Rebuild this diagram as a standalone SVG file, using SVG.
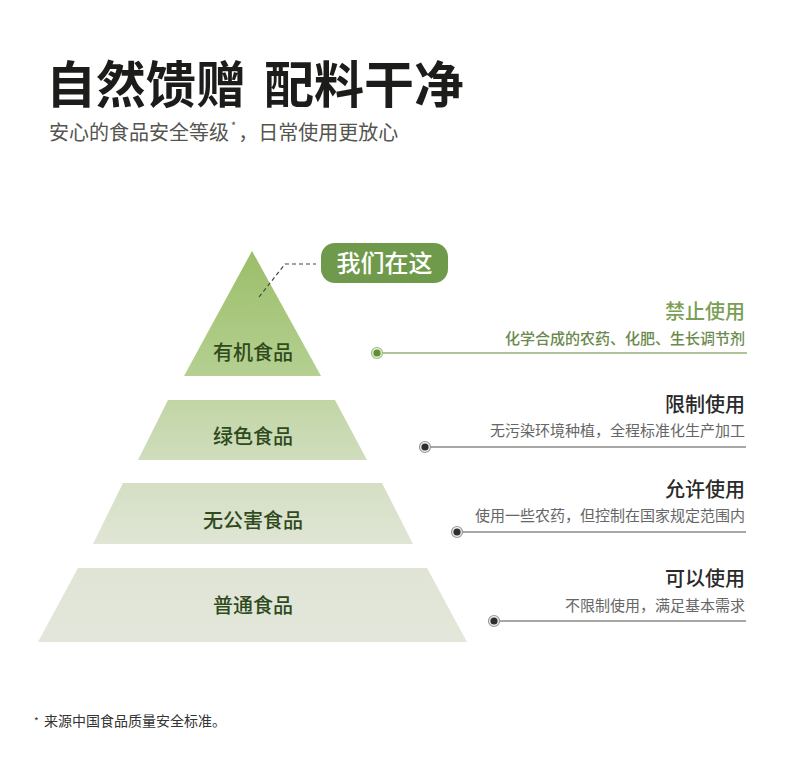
<svg xmlns="http://www.w3.org/2000/svg" width="790" height="765" viewBox="0 0 790 765">
<style>
.cjk{font-family:"Noto Sans CJK SC","Noto Sans",sans-serif}
.title{font-size:50px;font-weight:700;fill:#1c1c1a}
.sub{font-size:20px;fill:#555550}
.lvl{font-size:20px;font-weight:500;fill:#2f4a1c;text-anchor:middle}
.head{font-size:20px;font-weight:500;fill:#2a2a2a;text-anchor:end}
.desc{font-size:15px;fill:#666;text-anchor:end}
.gline{stroke:#93b274;stroke-width:1.6;fill:none}
.kline{stroke:#8a8a88;stroke-width:1.6;fill:none}
</style>
<defs>
<linearGradient id="g1" x1="0" y1="0" x2="0" y2="1"><stop offset="0" stop-color="#9bbe68"/><stop offset="1" stop-color="#b5d092"/></linearGradient>
<linearGradient id="g2" x1="0" y1="0" x2="0" y2="1"><stop offset="0" stop-color="#c1d5a4"/><stop offset="1" stop-color="#d0ddbe"/></linearGradient>
<linearGradient id="g3" x1="0" y1="0" x2="0" y2="1"><stop offset="0" stop-color="#d4dfc4"/><stop offset="1" stop-color="#e0e5d5"/></linearGradient>
<linearGradient id="g4" x1="0" y1="0" x2="0" y2="1"><stop offset="0" stop-color="#dfe4d5"/><stop offset="1" stop-color="#e3e7db"/></linearGradient>
</defs>
<rect width="790" height="765" fill="#ffffff"/>
<g id="header" class="cjk">
<text class="title" x="46" y="103">自然馈赠</text>
<text class="title" x="264" y="103">配料干净</text>
<text class="sub" x="49" y="140">安心的食品安全等级<tspan font-size="11" dx="2" dy="-10">*</tspan><tspan dx="2" dy="10">，日常使用更放心</tspan></text>
</g>
<g id="level-organic">
<polygon points="252,251 321,376 184,376" fill="url(#g1)"/>
<text class="cjk lvl" x="253" y="360">有机食品</text>
</g>
<g id="level-green">
<polygon points="168,400 335,400 367,460 138,460" fill="url(#g2)"/>
<text class="cjk lvl" x="253" y="444">绿色食品</text>
</g>
<g id="level-nopollution">
<polygon points="123,483 382,483 413,544 93,544" fill="url(#g3)"/>
<text class="cjk lvl" x="253" y="528">无公害食品</text>
</g>
<g id="level-ordinary">
<polygon points="78,568 427,568 467,642 38,642" fill="url(#g4)"/>
<text class="cjk lvl" x="253" y="613">普通食品</text>
</g>
<g id="bubble">
<rect x="321" y="243" width="127" height="40" rx="14" fill="#6f9a4c"/>
<text class="cjk" x="384.5" y="272" font-size="24" font-weight="500" fill="#ffffff" text-anchor="middle">我们在这</text>
</g>
<g id="connectors">
<polyline points="259,297 285,264 316,264" fill="none" stroke="#444" stroke-width="1.2" stroke-dasharray="4,3"/>
<line class="gline" x1="377" y1="353" x2="747" y2="353"/>
<line class="kline" x1="425" y1="447" x2="746" y2="447"/>
<line class="kline" x1="457" y1="532" x2="746" y2="532"/>
<line class="kline" x1="494" y1="621" x2="746" y2="621"/>
<circle cx="377" cy="353" r="5.5" fill="#e4eedb" stroke="#9dbe7e" stroke-width="1.2"/>
<circle cx="377" cy="353" r="3.6" fill="#5e8f36"/>
<circle cx="425" cy="447" r="5.5" fill="#eeeeee" stroke="#9a9a9a" stroke-width="1.2"/>
<circle cx="425" cy="447" r="3.6" fill="#2e2e2e"/>
<circle cx="457" cy="532" r="5.5" fill="#eeeeee" stroke="#9a9a9a" stroke-width="1.2"/>
<circle cx="457" cy="532" r="3.6" fill="#2e2e2e"/>
<circle cx="494" cy="621" r="5.5" fill="#eeeeee" stroke="#9a9a9a" stroke-width="1.2"/>
<circle cx="494" cy="621" r="3.6" fill="#2e2e2e"/>
</g>
<g id="note-1" class="cjk">
<text class="head" x="745" y="319" style="fill:#7a9e52">禁止使用</text>
<text class="desc" x="745" y="344" font-weight="500" style="fill:#6b8a4d">化学合成的农药、化肥、生长调节剂</text>
</g>
<g id="note-2" class="cjk">
<text class="head" x="745" y="412">限制使用</text>
<text class="desc" x="745" y="436">无污染环境种植，全程标准化生产加工</text>
</g>
<g id="note-3" class="cjk">
<text class="head" x="745" y="497">允许使用</text>
<text class="desc" x="745" y="521">使用一些农药，但控制在国家规定范围内</text>
</g>
<g id="note-4" class="cjk">
<text class="head" x="745" y="586">可以使用</text>
<text class="desc" x="745" y="611">不限制使用，满足基本需求</text>
</g>
<g id="footnote" class="cjk">
<text x="34" y="726" font-size="14" fill="#333"><tspan font-size="10" dy="-1">*</tspan><tspan x="44" dy="1">来源中国食品质量安全标准。</tspan></text>
</g>
</svg>
